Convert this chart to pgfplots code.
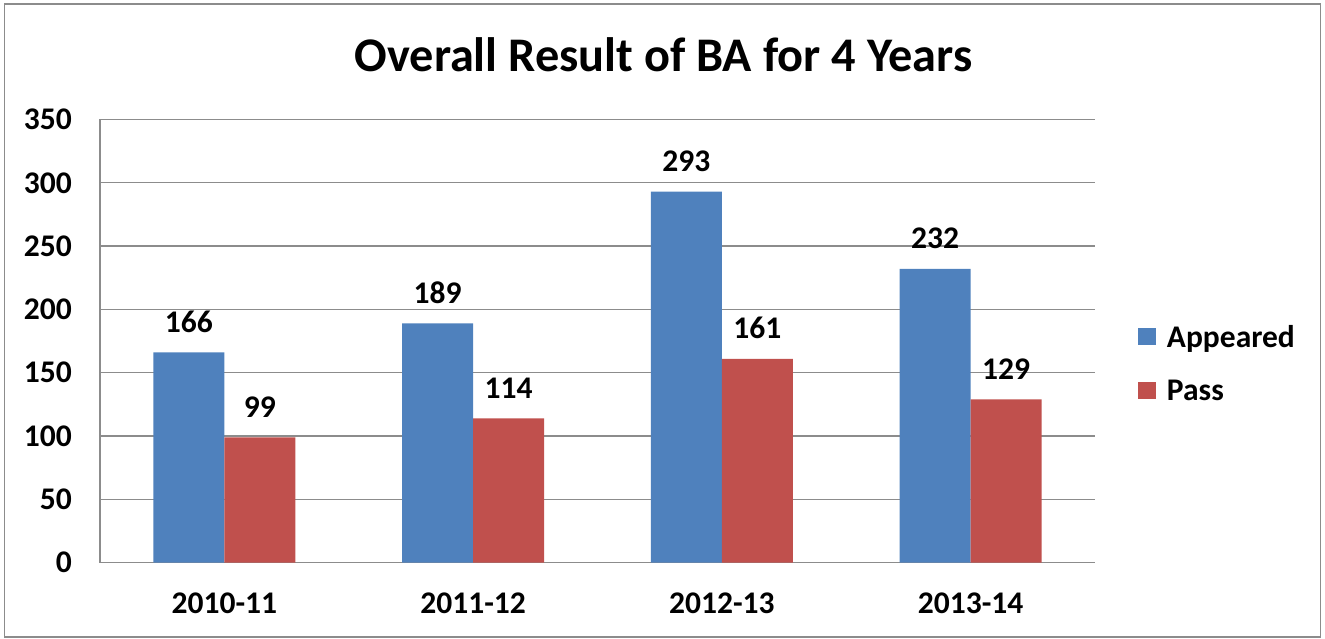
\documentclass[border=0pt]{standalone}
\usepackage{fontspec}
\setmainfont{Carlito}
\usepackage{pgfplots}
\pgfplotsset{compat=1.18}
\definecolor{appblue}{HTML}{4F81BD}
\definecolor{passred}{HTML}{C0504D}
\definecolor{gridgray}{HTML}{8C8C8C}
\newcommand{\bigfont}{\fontsize{31.5}{31.5}\selectfont\bfseries}
\begin{document}
\begin{tikzpicture}
\useasboundingbox (0,0) rectangle (1325pt,639pt);
\draw[gridgray, line width=1.2pt] (4.5pt,2pt) rectangle (1320.5pt,635pt);
\node[anchor=base, font=\fontsize{48.3}{48.3}\selectfont\bfseries] at (663.5pt,567pt) {Overall Result of BA for 4 Years};
\begin{axis}[
  at={(100pt,76.4pt)}, anchor=south west,
  scale only axis, width=995pt, height=443.1pt,
  ybar=0pt, bar width=71pt,
  xmin=-0.5, xmax=3.5, ymin=0, ymax=350,
  xtick={0,1,2,3}, xticklabels={2010-11,2011-12,2012-13,2013-14},
  ytick={0,50,...,350},
  major tick length=0pt,
  axis x line*=bottom, axis y line*=left,
  axis line style={gridgray, line width=1.2pt},
  ymajorgrids, grid style={gridgray, line width=1.2pt},
  /pgf/number format/assume math mode=true,
  tick label style={font=\bigfont},
  xticklabel style={anchor=base, yshift=-51pt, inner sep=0pt},
  yticklabel style={anchor=east, xshift=-28pt, inner sep=0pt},
  nodes near coords,
  every node near coord/.append style={font=\bigfont, anchor=base, yshift=20pt, inner sep=0pt, text=black},
  legend style={at={(axis description cs:1.043,0.449)}, anchor=west, draw=none, fill=none, font=\bigfont, row sep=27pt, inner sep=0pt},
  legend cell align=left,
  legend image code/.code={\fill[#1] (0pt,-8pt) rectangle (18pt,9pt); \path (27pt,0pt);},
]
\addplot[fill=appblue, draw=none] coordinates {(0,166) (1,189) (2,293) (3,232)};
\addplot[fill=passred, draw=none] coordinates {(0,99) (1,114) (2,161) (3,129)};
\legend{Appeared, Pass}
\end{axis}
\end{tikzpicture}
\end{document}
